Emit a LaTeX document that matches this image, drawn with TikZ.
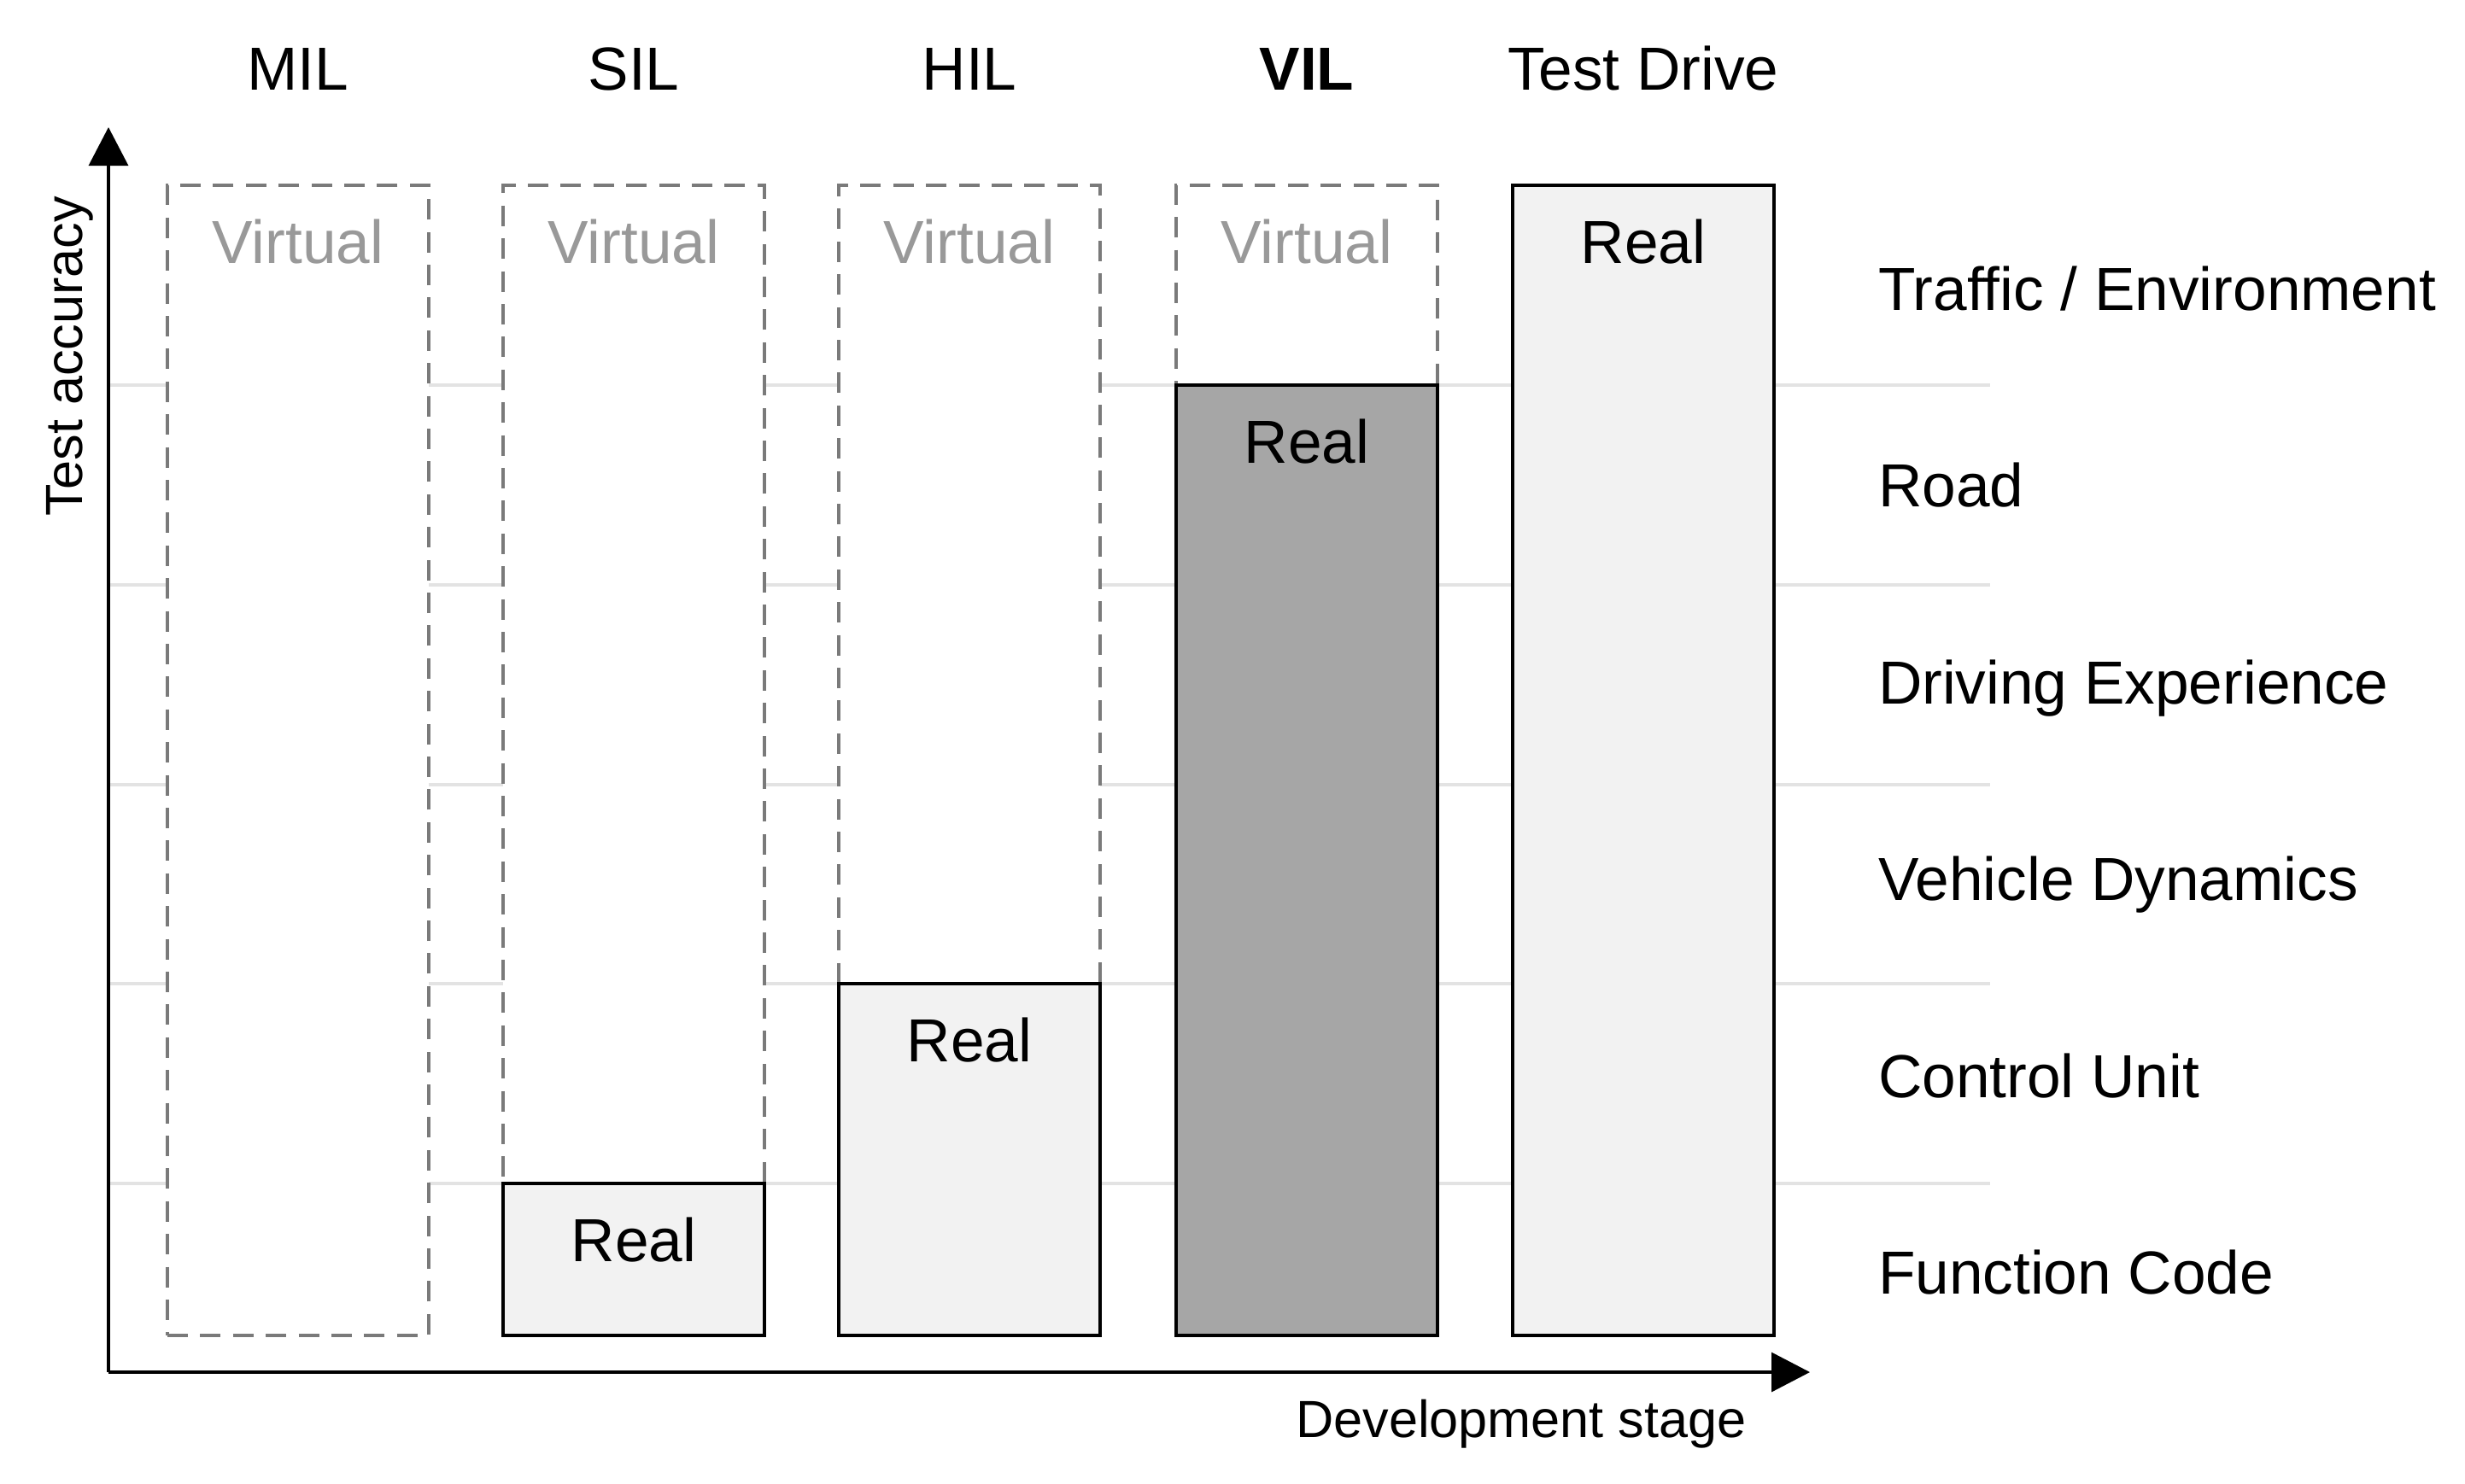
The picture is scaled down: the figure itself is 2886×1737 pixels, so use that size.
\documentclass[tikz,border=0pt]{standalone}
\usepackage{fontspec}
\setmainfont{Liberation Sans}
\usetikzlibrary{arrows.meta}
\definecolor{vline}{HTML}{7A7A7A}
\definecolor{vtext}{HTML}{999999}
\definecolor{gridc}{HTML}{E3E3E3}
\definecolor{lightf}{HTML}{F2F2F2}
\definecolor{darkf}{HTML}{A6A6A6}
\begin{document}
\begin{tikzpicture}[x=0.25pt,y=-0.25pt,
  big/.style={font=\fontsize{17.8pt}{21pt}\selectfont, inner sep=0, outer sep=0},
  small/.style={font=\fontsize{15.3pt}{18pt}\selectfont, inner sep=0, outer sep=0},
  toplbl/.style={big, anchor=base},
  rowlbl/.style={big, anchor=base west},
  vtxt/.style={big, anchor=base, text=vtext},
  rtxt/.style={big, anchor=base, text=black},
  boxbase/.style={inner sep=0, outer sep=0, anchor=north west, minimum width=76.5pt},
  virtbox/.style={boxbase, draw=vline, line width=0.9pt, dash pattern=on 6pt off 3.6pt, fill=white},
  realbox/.style={boxbase, draw=black, line width=1.15pt, fill=lightf},
  vilbox/.style={boxbase, draw=black, line width=1.15pt, fill=darkf},
  gridline/.style={draw=gridc, line width=1pt},
  axis/.style={draw=black, line width=0.8pt, -{Triangle[length=11.25pt,width=11.5pt]}}
]
\useasboundingbox (0,0) rectangle (2886,1737);

% grid lines
\foreach \yy [count=\i] in {451,685,918.5,1152,1386}{
  \coordinate (gl\i) at (127,\yy);
  \coordinate (gr\i) at (2330,\yy);
  \draw[gridline] (gl\i) -- (gr\i);
}

% MIL
\node[virtbox, minimum height=336.75pt] (milv) at (196,217) {};
\node[vtxt] (milvt) at (349,308) {Virtual};
% SIL
\node[virtbox, minimum height=292.25pt] (silv) at (589,217) {};
\node[realbox, minimum height=44.5pt] (silr) at (589,1386) {};
\node[vtxt] (silvt) at (742,308) {Virtual};
\node[rtxt] (silrt) at (742,1477) {Real};
% HIL
\node[virtbox, minimum height=233.75pt] (hilv) at (982,217) {};
\node[realbox, minimum height=103pt] (hilr) at (982,1152) {};
\node[vtxt] (hilvt) at (1135,308) {Virtual};
\node[rtxt] (hilrt) at (1135,1243) {Real};
% VIL
\node[virtbox, minimum height=58.5pt] (vilv) at (1377,217) {};
\node[vilbox, minimum height=278.25pt] (vilr) at (1377,451) {};
\node[vtxt] (vilvt) at (1530,308) {Virtual};
\node[rtxt] (vilrt) at (1530,542) {Real};
% Test drive
\node[realbox, minimum height=336.75pt] (tdr) at (1771,217) {};
\node[rtxt] (tdrt) at (1924,308) {Real};

% top labels
\node[toplbl] (mil) at (349,105) {MIL};
\node[toplbl] (sil) at (742,105) {SIL};
\node[toplbl] (hil) at (1135,105) {HIL};
\node[toplbl] (vil) at (1530,105) {\bfseries VIL};
\node[toplbl] (td) at (1924,105) {Test Drive};

% row labels
\node[rowlbl] (r1) at (2199,363) {Traffic / Environment};
\node[rowlbl] (r2) at (2199,593.5) {Road};
\node[rowlbl] (r3) at (2199,824) {Driving Experience};
\node[rowlbl] (r4) at (2199,1054.5) {Vehicle Dynamics};
\node[rowlbl] (r5) at (2199,1285) {Control Unit};
\node[rowlbl] (r6) at (2199,1515.5) {Function Code};

% axes
\coordinate (o) at (127,1607);
\coordinate (ytip) at (127,149);
\coordinate (xtip) at (2119,1607);
\draw[axis] (o) -- (ytip);
\draw[axis] (o) -- (xtip);
\node[small, anchor=base, rotate=90] (ylab) at (96,417) {Test accuracy};
\node[small, anchor=base] (xlab) at (1781,1683) {Development stage};
\end{tikzpicture}
\end{document}
